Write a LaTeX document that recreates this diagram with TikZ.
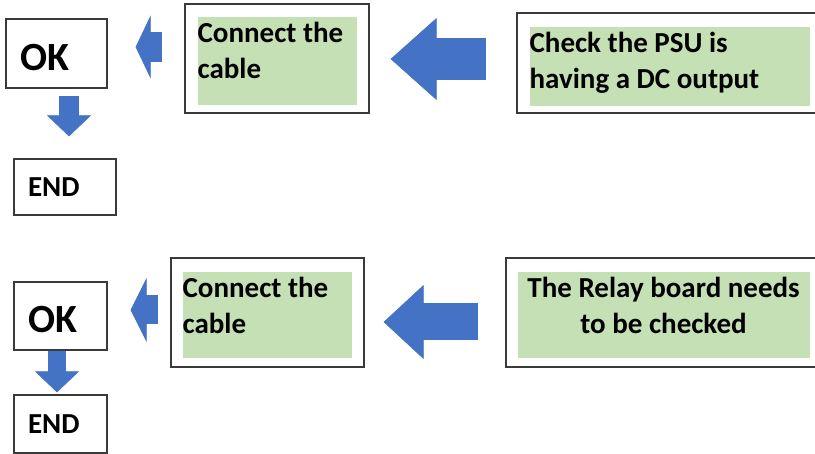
\documentclass[tikz,border=0pt]{standalone}
\usepackage{fontspec}
\setmainfont{Carlito}
\usetikzlibrary{arrows.meta}

\definecolor{boxgreen}{HTML}{C5E0B4}
\definecolor{arrowblue}{HTML}{4472C4}
\definecolor{framegray}{HTML}{3A3A3A}

\newcommand{\stepfont}{\fontsize{29}{36}\selectfont\bfseries}
\newcommand{\okfont}{\fontsize{40}{48}\selectfont\bfseries}
% green panel: width, height, alignment, text
\newcommand{\panel}[4]{\parbox[c][#2][t]{#1}{#3\rule{0pt}{26pt}#4}}

\begin{document}
\begin{tikzpicture}[x=1pt,y=-1pt,
  frame/.style={draw=framegray, line width=1.2pt, inner sep=0pt},
  termbox/.style 2 args={frame, text width=#1, minimum height=#2, inner xsep=14pt, align=left},
  greenbox/.style={fill=boxgreen, inner sep=0pt, anchor=north west, font=\stepfont},
  blockarrow/.style n args={3}{draw=arrowblue, line width=#1,
    -{Triangle[length=#3, width=#2, line width=0.6pt, color=arrowblue, fill=arrowblue]}},
]
\useasboundingbox (0,0) rectangle (815,454);
\clip (0,0) rectangle (815,454);

% first check
  \node[termbox={73pt}{69pt}, font=\okfont, text height=35pt] (ok1) at (56.5,53.5) {OK};
  \node[termbox={74pt}{56pt}, font=\stepfont] (end1) at (65,187) {END};
  \node[frame, minimum width=184pt, minimum height=109pt] (cab1) at (277,58.5) {};
  \node[greenbox] (g1) at ([xshift=13pt,yshift=-13pt]cab1.north west)
    {\panel{159pt}{88pt}{\raggedright}{Connect the\\cable}};
  \node[frame, minimum width=320pt, minimum height=100pt] (psu1) at (677,63) {};
  \node[greenbox] (g2) at ([xshift=13pt,yshift=-14pt]psu1.north west)
    {\panel{280pt}{79pt}{\raggedright}{Check the PSU is\\having a DC output}};

% second check
  \node[termbox={65pt}{68pt}, font=\okfont, text height=33pt] (ok2) at (60.5,316) {OK};
  \node[termbox={65pt}{58pt}, font=\stepfont] (end2) at (60.5,424) {END};
  \node[frame, minimum width=193pt, minimum height=109pt] (cab2) at (267.5,312.5) {};
  \node[greenbox] (g3) at ([xshift=12pt,yshift=-14pt]cab2.north west)
    {\panel{169pt}{86pt}{\raggedright}{Connect the\\cable}};
  \node[frame, minimum width=324pt, minimum height=109pt] (rel1) at (668,312.5) {};
  \node[greenbox] (g4) at ([xshift=12pt,yshift=-14pt]rel1.north west)
    {\panel{292pt}{86pt}{\centering}{The Relay board needs\\to be checked}};

% arrow levels
  \coordinate (lv1) at (0,47);
  \coordinate (lv2) at (0,59);
  \coordinate (lv3) at (69,0);
  \coordinate (lv4) at (0,310);
  \coordinate (lv5) at (0,322);
  \coordinate (lv6) at (57,0);

% block arrows
  \draw[blockarrow={30pt}{63pt}{15pt}, shorten <=22pt, shorten >=28pt] (cab1.west |- lv1) -- (ok1.east |- lv1);
  \draw[blockarrow={42pt}{82pt}{46pt}, shorten <=30pt, shorten >=21pt] (psu1.west |- lv2) -- (cab1.east |- lv2);
  \draw[blockarrow={20pt}{44pt}{21pt}, shorten <=7pt, shorten >=22pt] (ok1.south -| lv3) -- (end1.north -| lv3);
  \draw[blockarrow={29pt}{64pt}{16pt}, shorten <=12pt, shorten >=23pt] (cab2.west |- lv4) -- (ok2.east |- lv4);
  \draw[blockarrow={37pt}{74pt}{40pt}, shorten <=27pt, shorten >=19pt] (rel1.west |- lv5) -- (cab2.east |- lv5);
  \draw[blockarrow={18pt}{44pt}{21pt}, shorten <=0pt, shorten >=2pt] (ok2.south -| lv6) -- (end2.north -| lv6);

\end{tikzpicture}
\end{document}
